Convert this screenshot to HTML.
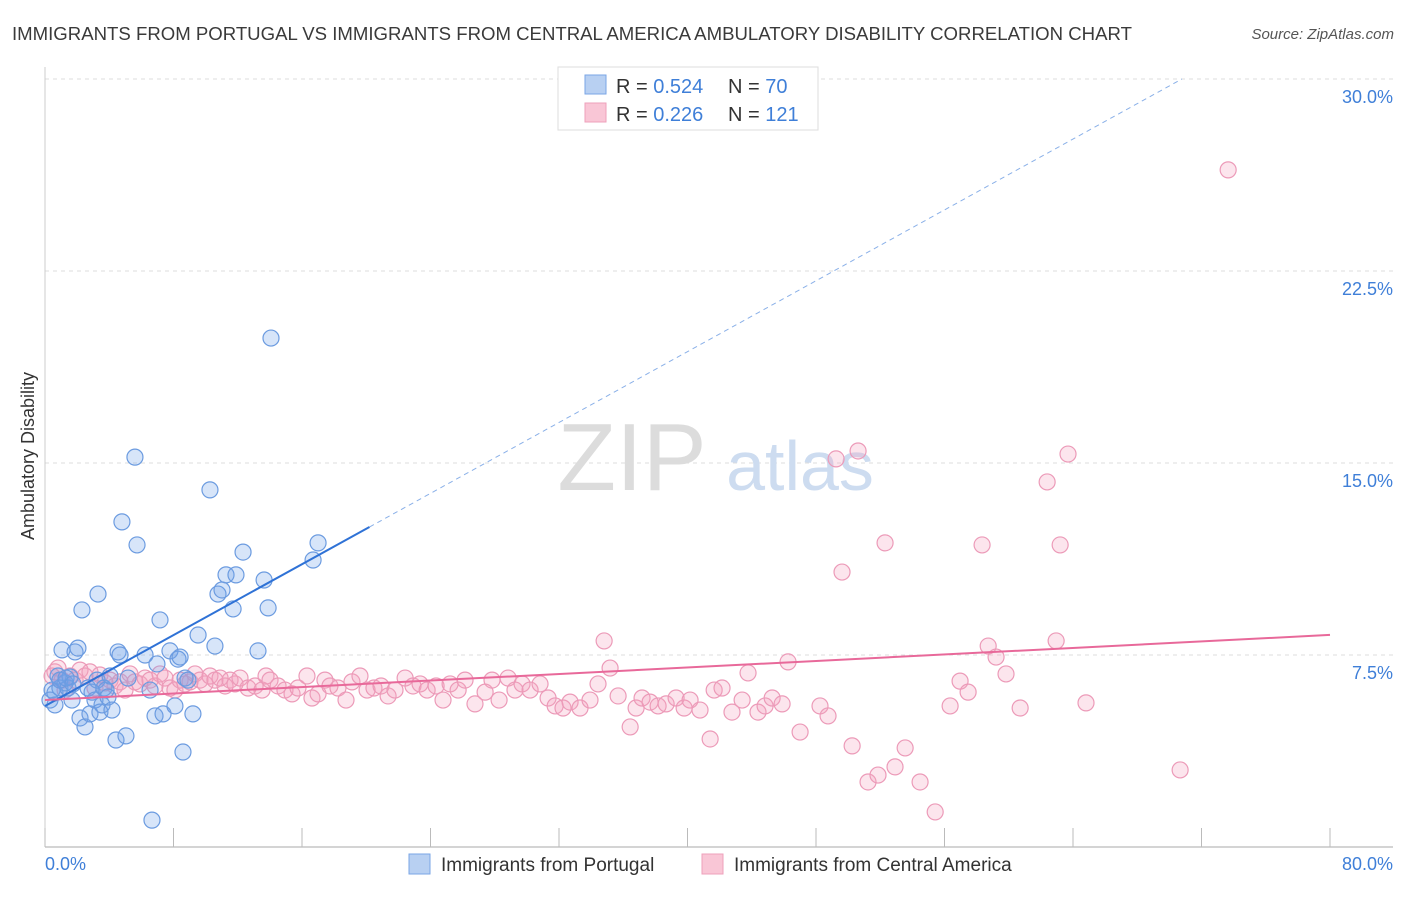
<!DOCTYPE html>
<html><head><meta charset="utf-8">
<style>
body{margin:0;background:#fff;font-family:"Liberation Sans",sans-serif;}
svg text{font-family:"Liberation Sans",sans-serif;}
</style></head>
<body>
<svg id="chart" width="1406" height="892" viewBox="0 0 1406 892">
<text x="12" y="40" font-size="18.6" fill="#3a3a3a">IMMIGRANTS FROM PORTUGAL VS IMMIGRANTS FROM CENTRAL AMERICA AMBULATORY DISABILITY CORRELATION CHART</text>
<text x="1394" y="39" font-size="15" fill="#555" font-style="italic" text-anchor="end">Source: ZipAtlas.com</text>
<g id="grid"></g>
<text x="632" y="490" font-size="96" font-family="Liberation Serif" fill="#dcdcdc" text-anchor="middle">ZIP</text>
<text x="800" y="490" font-size="70" fill="#cddcf0" text-anchor="middle">atlas</text>
<text transform="translate(34,456) rotate(-90)" font-size="18" fill="#333" text-anchor="middle">Ambulatory Disability</text>
<g id="marks"></g>
<g>
<rect x="558" y="67" width="260" height="63" fill="#fff" stroke="#ddd"/>
<rect x="585" y="75" width="21" height="19" fill="#b8d0f2" stroke="#7aa6e6"/>
<rect x="585" y="103" width="21" height="19" fill="#f9c6d6" stroke="#eea0bb"/>
<text x="616" y="93" font-size="20" fill="#333">R = <tspan fill="#3f7fd8">0.524</tspan></text>
<text x="728" y="93" font-size="20" fill="#333">N = <tspan fill="#3f7fd8">70</tspan></text>
<text x="616" y="121" font-size="20" fill="#333">R = <tspan fill="#3f7fd8">0.226</tspan></text>
<text x="728" y="121" font-size="20" fill="#333">N = <tspan fill="#3f7fd8">121</tspan></text>
</g>
<g>
<rect x="409" y="854" width="21" height="20" fill="#b8d0f2" stroke="#7aa6e6"/>
<text x="441" y="871" font-size="19" fill="#333">Immigrants from Portugal</text>
<rect x="702" y="854" width="21" height="20" fill="#f9c6d6" stroke="#eea0bb"/>
<text x="734" y="871" font-size="19" fill="#333">Immigrants from Central America</text>
</g>
</svg>
<script>
const yTicks=[7.5,15,22.5,30];
const yTickLabels=["7.5%","15.0%","22.5%","30.0%"];
const xTicks=[0,8,16,24,32,40,48,56,64,72,80];
const blueX=[.44,.62,.93,.81,1.06,1.25,1.43,1.56,1.68,1.87,2.05,2.18,2.30,2.49,2.68,2.80,2.93,3.11,3.24,3.30,3.42,3.55,3.67,3.80,3.92,4.05,4.17,4.42,4.55,4.67,4.79,5.04,5.17,5.60,5.73,6.23,6.54,6.66,6.85,6.97,7.16,7.35,7.78,8.09,8.28,8.41,8.59,8.72,8.90,9.21,9.53,10.27,10.58,10.77,11.02,11.27,11.71,11.89,12.33,13.26,13.64,13.89,14.07,16.69,17.00,.93,.31,1.31,1.74,.62];
const blueY=[6.13,6.02,6.21,6.68,7.70,6.41,6.21,6.64,5.74,7.62,7.77,5.04,9.26,4.69,6.21,5.20,6.05,5.74,6.52,9.88,5.27,5.55,6.21,6.13,5.86,6.68,5.35,4.18,7.62,7.50,12.70,4.34,6.60,15.23,11.80,7.50,6.13,1.05,5.12,7.15,8.87,5.20,7.66,5.51,7.34,7.42,3.71,6.60,6.52,5.20,8.28,13.95,7.85,9.88,10.04,10.63,9.30,10.63,11.52,7.66,10.43,9.34,19.88,11.21,11.88,6.52,5.74,6.60,6.37,5.55];
const pinkX=[.44,.62,.81,1.06,1.25,1.56,1.87,2.18,2.49,2.80,3.11,3.42,3.74,4.05,4.36,4.67,4.98,5.29,5.60,5.91,6.23,6.54,6.85,7.16,7.47,7.78,8.09,8.41,8.72,9.03,9.34,9.65,9.96,10.27,10.58,10.90,11.21,11.52,11.83,12.14,12.64,13.08,13.51,13.76,14.01,14.51,14.94,15.38,15.75,16.31,16.62,17.00,17.43,17.74,18.24,18.74,19.11,19.61,20.05,20.48,20.92,21.36,21.79,22.42,22.91,23.35,23.79,24.35,24.78,25.22,25.72,26.15,26.77,27.40,27.83,28.27,28.83,29.26,29.70,30.20,30.82,31.32,31.76,32.25,32.69,33.31,33.93,34.43,34.81,35.18,35.68,36.43,36.80,37.17,37.67,38.17,38.67,39.29,39.79,40.16,40.78,41.41,41.66,42.15,42.77,43.40,43.77,44.39,44.83,45.27,45.89,46.26,47.01,48.25,48.75,49.25,49.62,50.25,50.62,51.24,51.86,52.30,52.92,53.55,54.48,55.42,56.35,56.97,57.47,58.34,58.72,59.21,59.83,60.71,62.39,62.95,63.20,63.69,64.81,70.67,73.66];
const pinkY=[6.68,6.84,6.99,6.52,6.13,6.68,6.52,6.91,6.68,6.84,6.21,6.72,6.41,6.52,6.29,6.45,6.13,6.76,6.45,6.37,6.60,6.52,6.29,6.76,6.60,6.21,6.13,6.52,6.37,6.45,6.76,6.52,6.37,6.68,6.52,6.60,6.29,6.52,6.37,6.60,6.21,6.29,6.13,6.68,6.52,6.29,6.13,5.98,6.21,6.68,5.82,5.98,6.52,6.29,6.21,5.74,6.45,6.68,6.13,6.21,6.29,5.90,6.13,6.60,6.29,6.37,6.13,6.29,5.74,6.37,6.13,6.52,5.59,6.05,6.52,5.74,6.60,6.13,6.37,6.13,6.37,5.82,5.51,5.43,5.66,5.43,5.74,6.37,8.05,6.99,5.90,4.69,5.43,5.82,5.66,5.51,5.59,5.82,5.43,5.74,5.35,4.22,6.13,6.21,5.27,5.74,6.80,5.27,5.51,5.82,5.59,7.23,4.49,5.51,5.12,15.16,10.74,3.95,15.47,2.54,2.81,11.88,3.13,3.87,2.54,1.37,5.51,6.48,6.05,11.80,7.85,7.42,6.76,5.43,14.26,8.05,11.80,15.35,5.63,3.01,26.45];
const blueTrend=[5.51,0.346];
const pinkTrend=[5.74,0.0318];
const blueSolidEnd=20.2;

const NS="http://www.w3.org/2000/svg";
const X=v=>45+v*(1330-45)/80;
const Y=v=>847-v*25.6;
function mk(t,a,p){const e=document.createElementNS(NS,t);for(const k in a)e.setAttribute(k,a[k]);p.appendChild(e);return e;}
const grid=document.getElementById('grid'),marks=document.getElementById('marks');
yTicks.forEach((t,i)=>{
  const l=mk('line',{x1:45,x2:1393,y1:Y(t),y2:Y(t),stroke:'#ddd','stroke-dasharray':'4,4'},grid);
  
  
  const tx=mk('text',{x:1393,y:Y(t)+24,'font-size':18,fill:'#3f7fd8','text-anchor':'end'},grid);
  tx.textContent=yTickLabels[i];
  
  
});
const ax=mk('line',{x1:45,x2:1393,y1:847,y2:847,stroke:'#aaa'},grid);


const ay=mk('line',{x1:45,x2:45,y1:67,y2:847,stroke:'#ccc'},grid);


xTicks.forEach(t=>{
  const l=mk('line',{x1:X(t),x2:X(t),y1:828,y2:847,stroke:'#bbb'},grid);
  
  
});
const xl0=mk('text',{x:45,y:870,'font-size':18,fill:'#3f7fd8'},grid);xl0.textContent='0.0%';


const xl1=mk('text',{x:1393,y:870,'font-size':18,fill:'#3f7fd8','text-anchor':'end'},grid);xl1.textContent='80.0%';



pinkX.forEach((v,i)=>{
  const c=mk('circle',{cx:X(v),cy:Y(pinkY[i]),r:8,fill:'rgba(244,160,190,0.28)',stroke:'#ec9ab8','stroke-width':1.2},marks);
  
  
});
blueX.forEach((v,i)=>{
  const c=mk('circle',{cx:X(v),cy:Y(blueY[i]),r:8,fill:'rgba(110,160,235,0.28)',stroke:'#6b9be0','stroke-width':1.2},marks);
  
  
});
const xEnd=(30-blueTrend[0])/blueTrend[1];
const bd=mk('line',{x1:X(blueSolidEnd),y1:Y(blueTrend[0]+blueTrend[1]*blueSolidEnd),x2:X(xEnd),y2:Y(30),stroke:'#8ab0e8','stroke-width':1,'stroke-dasharray':'5,4'},marks);


const bs=mk('line',{x1:X(0),y1:Y(blueTrend[0]),x2:X(blueSolidEnd),y2:Y(blueTrend[0]+blueTrend[1]*blueSolidEnd),stroke:'#2f72d6','stroke-width':2},marks);


const ps=mk('line',{x1:X(0),y1:Y(pinkTrend[0]),x2:X(80),y2:Y(pinkTrend[0]+pinkTrend[1]*80),stroke:'#e8699a','stroke-width':2},marks);


</script>
</body></html>
